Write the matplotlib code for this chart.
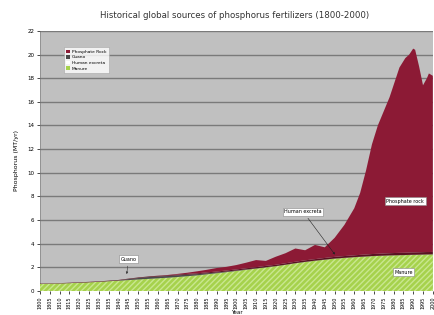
import matplotlib.pyplot as plt
from matplotlib.patches import Patch

# data (MT/yr)
years = [1800, 1810, 1820, 1830, 1840, 1845, 1850, 1855, 1860, 1865, 1870, 1875,
         1880, 1885, 1890, 1895, 1900, 1905, 1910, 1915, 1920, 1925, 1930, 1935,
         1940, 1945, 1950, 1955, 1960, 1963, 1966, 1969, 1972, 1975, 1978, 1981,
         1983, 1986, 1988, 1990, 1991, 1993, 1995, 1997, 1998, 2000]
manure = [0.60, 0.64, 0.70, 0.78, 0.88, 0.93, 0.98, 1.03, 1.08, 1.13, 1.19, 1.26,
          1.33, 1.42, 1.51, 1.60, 1.70, 1.80, 1.90, 2.00, 2.10, 2.22, 2.35, 2.46,
          2.56, 2.65, 2.74, 2.80, 2.86, 2.89, 2.92, 2.95, 2.97, 2.99, 3.01, 3.02,
          3.03, 3.04, 3.05, 3.06, 3.06, 3.07, 3.08, 3.09, 3.09, 3.10]
guano = [0.0, 0.0, 0.0, 0.0, 0.02, 0.08, 0.12, 0.15, 0.15, 0.14, 0.14, 0.12,
         0.10, 0.08, 0.06, 0.05, 0.04, 0.03, 0.02, 0.02, 0.01, 0.01, 0.01, 0.01,
         0.01, 0.01, 0.01, 0.01, 0.01, 0.01, 0.01, 0.01, 0.01, 0.01, 0.01, 0.01,
         0.01, 0.01, 0.01, 0.01, 0.01, 0.01, 0.01, 0.01, 0.01, 0.01]
excreta = [0.03, 0.03, 0.04, 0.04, 0.04, 0.04, 0.05, 0.05, 0.06, 0.06, 0.06, 0.07,
           0.07, 0.08, 0.08, 0.09, 0.09, 0.10, 0.10, 0.11, 0.11, 0.12, 0.12, 0.13,
           0.13, 0.14, 0.14, 0.15, 0.15, 0.16, 0.16, 0.17, 0.17, 0.18, 0.18, 0.19,
           0.19, 0.19, 0.20, 0.20, 0.20, 0.20, 0.20, 0.20, 0.20, 0.20]
rock = [0.0, 0.0, 0.0, 0.0, 0.0, 0.0, 0.0, 0.0, 0.01, 0.03, 0.06, 0.10,
        0.17, 0.22, 0.30, 0.31, 0.37, 0.47, 0.60, 0.42, 0.68, 0.85, 1.12, 0.85,
        1.20, 0.90, 1.61, 2.64, 3.98, 5.24, 7.11, 9.27, 10.85, 12.02, 13.20, 14.68,
        15.67, 16.46, 16.74, 17.23, 17.13, 15.72, 14.11, 14.70, 15.10, 14.89]

fig = plt.figure(figsize=(4.35, 3.15), dpi=100)
ax = fig.add_axes([0.092, 0.076, 0.903, 0.826])
ax.set_facecolor('#c0c0c0')

# stacking
b1 = manure
b2 = [a + g for a, g in zip(b1, guano)]
b3 = [a + e for a, e in zip(b2, excreta)]
b4 = [a + r for a, r in zip(b3, rock)]

red = '#8c1a35'
ax.fill_between(years, 0, b1, facecolor='#a6d24c', edgecolor='#c9e78f',
                hatch='//////', linewidth=0, zorder=3)
ax.fill_between(years, b1, b2, facecolor='#4a4a4a', linewidth=0, zorder=3)
ax.fill_between(years, b2, b3, facecolor='#5a1222', linewidth=0, zorder=3)
ax.fill_between(years, b3, b4, facecolor=red, linewidth=0, zorder=3)

ax.set_xlim(1800, 2000)
ax.set_ylim(0, 22)
ax.set_yticks(range(0, 23, 2))
ax.set_xticks(range(1800, 2001, 5))
ax.tick_params(axis='y', labelsize=4, length=2, width=0.5, pad=2)
ax.tick_params(axis='x', labelsize=3.5, length=2, width=0.5, pad=2, labelrotation=90)
ax.yaxis.grid(True, color='#7a7a7a', linewidth=1.0, zorder=1)
ax.set_axisbelow(True)
for s in ['top', 'right', 'bottom']:
    ax.spines[s].set_visible(False)
ax.spines['left'].set_linewidth(0.5)
ax.spines['left'].set_color('#808080')

ax.set_ylabel('Phosphorus (MT/yr)', fontsize=4.5, labelpad=6)
ax.set_xlabel('Year', fontsize=4, labelpad=0.5)
fig.text(0.54, 0.952, 'Historical global sources of phosphorus fertilizers (1800-2000)',
         ha='center', va='center', fontsize=6.2, color='#333333')

handles = [Patch(facecolor=red, edgecolor='none'),
           Patch(facecolor='#4a4a4a', edgecolor='none'),
           Patch(facecolor='white', edgecolor='none'),
           Patch(facecolor='#a6d24c', edgecolor='none')]
labels = ['Phosphate Rock', 'Guano', 'Human excreta', 'Manure']
leg = ax.legend(handles, labels, loc='upper left', bbox_to_anchor=(0.055, 0.945),
                fontsize=3.2, frameon=True, fancybox=False, handlelength=0.8,
                handleheight=0.8, handletextpad=0.5, borderpad=0.5, labelspacing=0.3)
leg.get_frame().set_edgecolor('#999999')
leg.get_frame().set_linewidth(0.4)
leg.set_zorder(5)

box = dict(boxstyle='square,pad=0.3', facecolor='white', edgecolor='#888888', linewidth=0.4)
ax.annotate('Guano', xy=(1844, 1.2), xytext=(1845, 2.7), fontsize=3.5, ha='center',
            va='center', bbox=box, zorder=6,
            arrowprops=dict(arrowstyle='-|>', color='#333333', lw=0.4, mutation_scale=3))
ax.annotate('Human excreta', xy=(1951, 2.9), xytext=(1934, 6.7), fontsize=3.5, ha='center',
            va='center', bbox=box, zorder=6,
            arrowprops=dict(arrowstyle='-|>', color='#222222', lw=0.4, mutation_scale=3))
ax.text(1986, 7.6, 'Phosphate rock', fontsize=3.5, ha='center', va='center', bbox=box, zorder=6)
ax.text(1985, 1.6, 'Manure', fontsize=3.5, ha='center', va='center', bbox=box, zorder=6)

fig.savefig('out.png', dpi=100)
